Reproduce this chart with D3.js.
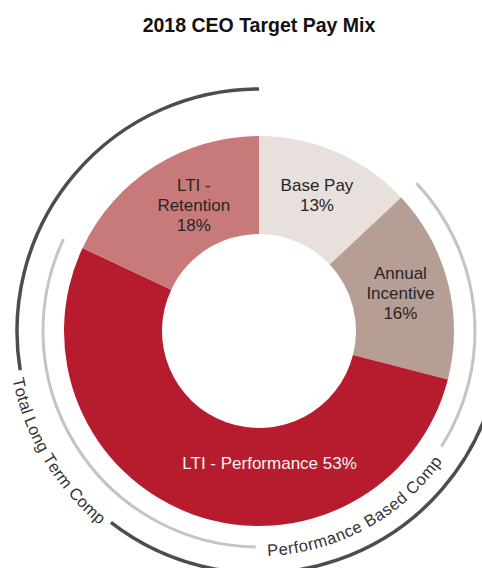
<!DOCTYPE html>
<html>
<head>
<meta charset="utf-8">
<script src="https://cdn.jsdelivr.net/npm/d3@7"></script>
<style>
  html, body { margin: 0; padding: 0; background: #ffffff; }
  svg { display: block; font-family: Arial, "Liberation Sans", sans-serif; }
</style>
</head>
<body>
<script>
// Pay components, in clockwise order from 12 o'clock
const categories = ["Base Pay", "Annual Incentive", "LTI - Performance", "LTI - Retention"];
const shares = [13, 16, 53, 18];
const sliceColors = ["#e8e0dc", "#b69e94", "#b61c2d", "#c87a7b"];
const labelColors = ["#262626", "#262626", "#f4f4f4", "#262626"];
// How each slice label breaks into lines (the share is appended)
const labelWraps = [["Base Pay"], ["Annual", "Incentive"], ["LTI - Performance"], ["LTI -", "Retention"]];
const labelInline = [false, false, true, false];

// Groupings shown as outer brackets
const bracketNames = ["Total Long Term Comp", "Performance Based Comp"];
const bracketMembers = [["LTI - Performance", "LTI - Retention"], ["Annual Incentive", "LTI - Performance"]];

const title = "2018 CEO Target Pay Mix";

const W = 482, H = 568;
const cx = 259, cy = 331;
const outerR = 195, innerR = 97;

const svg = d3.select("body").append("svg")
  .attr("width", W).attr("height", H);

svg.append("text")
  .attr("x", cx).attr("y", 32)
  .attr("text-anchor", "middle")
  .attr("font-size", 19.5)
  .attr("font-weight", "bold")
  .attr("fill", "#111")
  .text(title);

const data = categories.map((c, i) => ({ name: c, value: shares[i], i }));
const pie = d3.pie().sort(null).value(d => d.value);
const slices = pie(data);
const arc = d3.arc().innerRadius(innerR).outerRadius(outerR);

const g = svg.append("g").attr("transform", `translate(${cx},${cy})`);

g.selectAll("path.slice")
  .data(slices)
  .join("path")
  .attr("class", "slice")
  .attr("d", arc)
  .attr("fill", d => sliceColors[d.data.i]);

// Slice labels, placed at the arc centroid with small nudges
const labelNudge = [[0, -2], [0, -1], [60, -5], [13, -2]];
const lineH = 20;
slices.forEach(d => {
  const i = d.data.i;
  const [x0, y0] = arc.centroid(d);
  const lines = labelInline[i]
    ? [labelWraps[i].join(" ") + " " + shares[i] + "%"]
    : labelWraps[i].concat([shares[i] + "%"]);
  const t = g.append("text")
    .attr("text-anchor", "middle")
    .attr("font-size", 17)
    .attr("fill", labelColors[i]);
  const top = y0 + labelNudge[i][1] - (lines.length - 1) * lineH / 2;
  lines.forEach((ln, k) => {
    t.append("tspan")
      .attr("x", x0 + labelNudge[i][0])
      .attr("y", top + k * lineH)
      .attr("dominant-baseline", "central")
      .text(ln);
  });
});

// Open arc path; angles follow d3.pie (0 at 12 o'clock, clockwise)
function arcPath(r, a0, a1) {
  const p = d3.path();
  p.arc(0, 0, r, a0 - Math.PI / 2, a1 - Math.PI / 2, a1 < a0);
  return p.toString();
}

const deg = Math.PI / 180;
const bracketStyle = [
  { r: 242, textR: 245, stroke: "#4d4d4d", width: 3.5, textMid: 239.2 * deg, textSpan: 39.6 * deg, pad: 6 },
  { r: 216, textR: 219, stroke: "#c4c4c4", width: 3,   textMid: 151.6 * deg, textSpan: 52.5 * deg, pad: 10 }
];
const arcFont = 16.5;

// Measure each glyph so a bracket label can be laid out letter by letter
const probe = svg.append("text").attr("font-size", arcFont).attr("visibility", "hidden");
function glyphWidth(ch) {
  probe.text(ch === " " ? "\u00a0" : ch);
  return probe.node().getComputedTextLength();
}

bracketNames.forEach((name, b) => {
  const st = bracketStyle[b];
  const members = slices.filter(s => bracketMembers[b].includes(s.data.name));
  const a0 = d3.min(members, s => s.startAngle);
  const a1 = d3.max(members, s => s.endAngle);

  // Label reads counter-clockwise, upright along the lower rim
  const chars = Array.from(name);
  const widths = chars.map(glyphWidth);
  const target = st.textSpan * st.textR;
  const spacing = (target - d3.sum(widths)) / (chars.length - 1);
  const startA = st.textMid + target / 2 / st.textR;
  let s = 0;
  const lbl = g.append("g").attr("class", "bracket-label");
  chars.forEach((ch, k) => {
    const a = startA - (s + widths[k] / 2) / st.textR;
    s += widths[k] + spacing;
    if (ch === " ") return;
    const x = st.textR * Math.sin(a), y = -st.textR * Math.cos(a);
    lbl.append("text")
      .attr("transform", `translate(${x.toFixed(2)},${y.toFixed(2)}) rotate(${(a / deg - 180).toFixed(2)})`)
      .attr("text-anchor", "middle")
      .attr("dominant-baseline", "central")
      .attr("font-size", arcFont)
      .attr("fill", "#333")
      .text(ch);
  });

  const gapHalf = (target / 2 + st.pad) / st.r;
  [[a0, st.textMid - gapHalf], [st.textMid + gapHalf, a1]].forEach(([s0, e0]) => {
    if (e0 > s0) {
      g.append("path")
        .attr("d", arcPath(st.r, s0, e0))
        .attr("fill", "none")
        .attr("stroke", st.stroke)
        .attr("stroke-width", st.width);
    }
  });
});
probe.remove();
</script>
</body>
</html>
